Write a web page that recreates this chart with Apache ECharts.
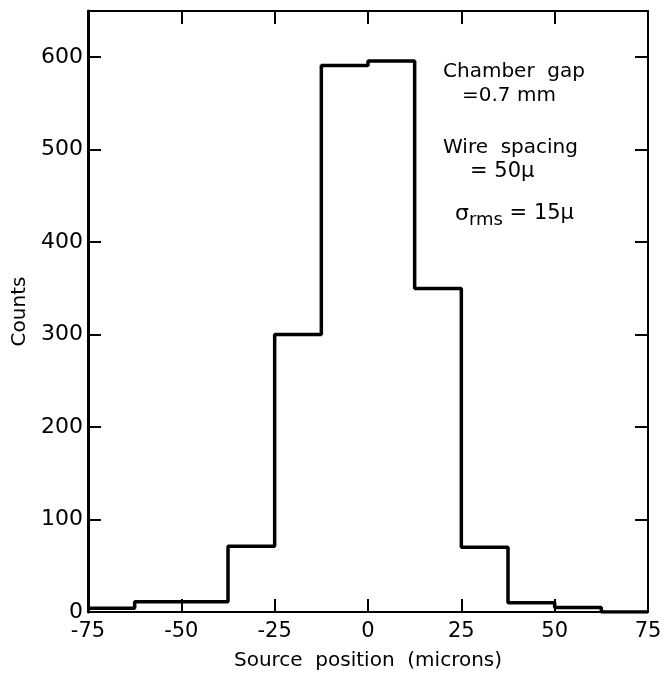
<!DOCTYPE html>
<html>
<head>
<meta charset="utf-8">
<script src="https://cdn.jsdelivr.net/npm/echarts@6/dist/echarts.min.js"></script>
<style>
  html, body { margin: 0; padding: 0; background: #fff; }
  #chart { width: 664px; height: 673px; }
</style>
</head>
<body>
<div id="chart"></div>
<script>
// left edge of each bin (microns) and its count
const binEdges = [-75, -62.5, -50, -37.5, -25, -12.5, 0, 12.5, 25, 37.5, 50, 62.5];
const counts = [4, 11, 11, 71, 300, 591, 596, 350, 70, 10, 5, 0];
const xTicks = [-75, -50, -25, 0, 25, 50, 75];
const yTicks = [0, 100, 200, 300, 400, 500, 600];

const font = 'DejaVu Sans';

// step line through bin edges, closed at the right end
const stepData = binEdges.map((x, i) => [x, counts[i]]);
stepData.push([75, counts[counts.length - 1]]);

const chart = echarts.init(document.getElementById('chart'));

const axisLine = { show: true, onZero: false, lineStyle: { color: '#000', width: 2 } };
const tick = { show: true, inside: true, length: 13, lineStyle: { color: '#000', width: 2 } };

const option = {
    animation: false,
    grid: { left: 88, right: 16, top: 11, bottom: 61, containLabel: false, outerBoundsMode: 'none' },
    xAxis: [
        {
            type: 'value',
            min: -75,
            max: 75,
            interval: 25,
            name: 'Source  position  (microns)',
            nameLocation: 'middle',
            nameGap: 39,
            nameTextStyle: { fontFamily: font, fontSize: 20, color: '#000' },
            axisLine: axisLine,
            axisTick: tick,
            splitLine: { show: false },
            axisLabel: {
                fontFamily: font, fontSize: 21, color: '#000', margin: 9,
                formatter: v => xTicks.indexOf(v) >= 0 ? String(v) : ''
            }
        },
        {
            type: 'value',
            position: 'top',
            min: -75,
            max: 75,
            interval: 25,
            axisLine: axisLine,
            axisTick: tick,
            splitLine: { show: false },
            axisLabel: { show: false }
        }
    ],
    yAxis: [
        {
            type: 'value',
            min: 0,
            max: 650,
            interval: 100,
            name: 'Counts',
            nameLocation: 'middle',
            nameGap: 57,
            nameRotate: 90,
            nameTextStyle: { fontFamily: font, fontSize: 20, color: '#000' },
            axisLine: { show: true, onZero: false, lineStyle: { color: '#000', width: 3 } },
            axisTick: tick,
            splitLine: { show: false },
            axisLabel: {
                fontFamily: font, fontSize: 22, color: '#000', margin: 5,
                formatter: v => yTicks.indexOf(v) >= 0 ? String(v) : ''
            }
        },
        {
            type: 'value',
            position: 'right',
            min: 0,
            max: 650,
            interval: 100,
            axisLine: axisLine,
            axisTick: tick,
            splitLine: { show: false },
            axisLabel: { show: false }
        }
    ],
    series: [
        {
            type: 'line',
            step: 'end',
            data: stepData,
            symbol: 'none',
            lineStyle: { color: '#000', width: 3.5 },
            z: 5
        }
    ],
    graphic: [
        {
            type: 'text', left: 443, top: 62,
            style: { text: 'Chamber  gap', fontFamily: font, fontSize: 20, fill: '#000' }
        },
        {
            type: 'text', left: 462, top: 86,
            style: { text: '=0.7 mm', fontFamily: font, fontSize: 20, fill: '#000' }
        },
        {
            type: 'text', left: 443, top: 138,
            style: { text: 'Wire  spacing', fontFamily: font, fontSize: 20, fill: '#000' }
        },
        {
            type: 'text', left: 470, top: 161,
            style: { text: '= 50\u03bc', fontFamily: font, fontSize: 21, fill: '#000' }
        },
        {
            type: 'text', left: 455, top: 203,
            style: {
                text: '{s|\u03c3}{sub|rms}{n| = 15\u03bc}',
                fontFamily: font, fill: '#000',
                rich: {
                    s: { fontFamily: font, fontSize: 22, fill: '#000' },
                    sub: { fontFamily: font, fontSize: 18, fill: '#000', padding: [12, 0, 0, 0] },
                    n: { fontFamily: font, fontSize: 21, fill: '#000' }
                }
            }
        }
    ]
};

chart.setOption(option);
</script>
</body>
</html>
